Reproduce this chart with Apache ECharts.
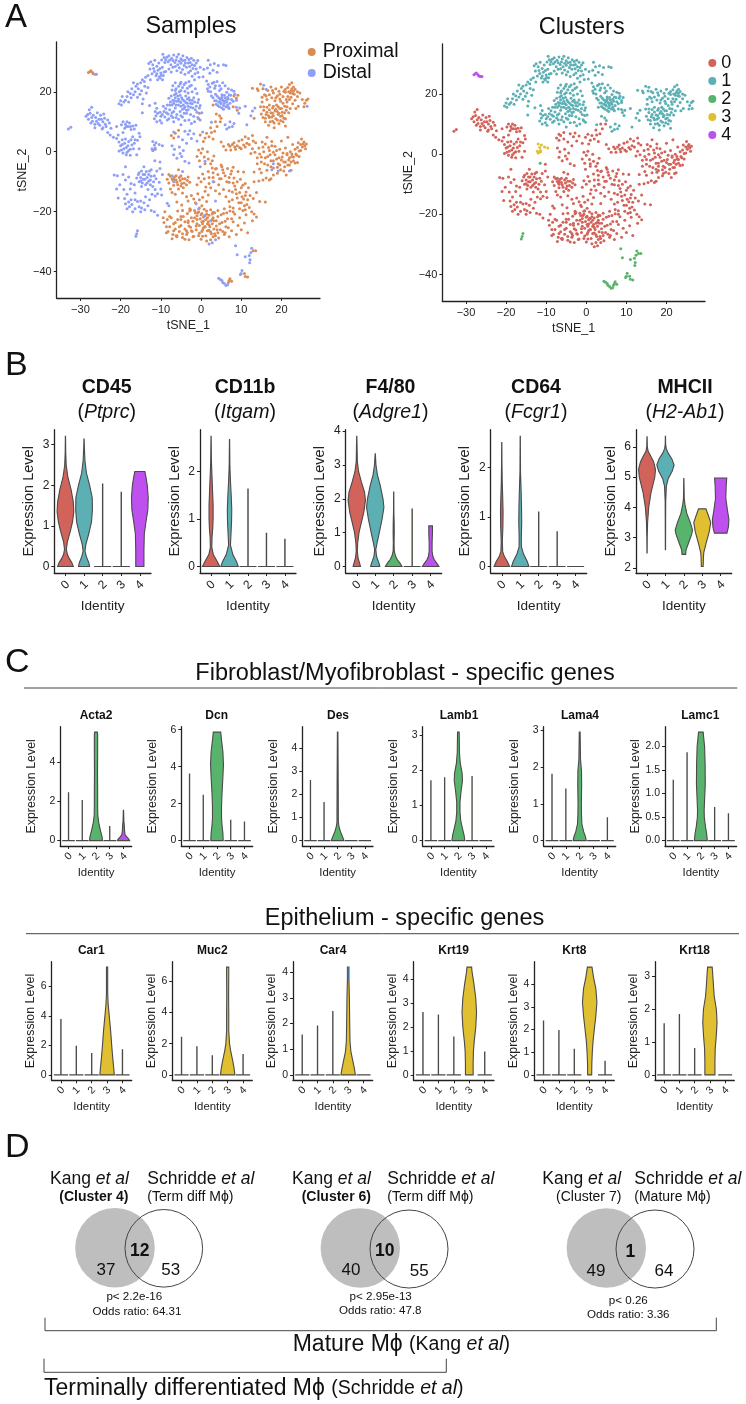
<!DOCTYPE html>
<html>
<head>
<meta charset="utf-8">
<style>
  html, body { margin: 0; padding: 0; background: #fff; }
  #main { width: 746px; height: 1404px; }
</style>
<script src="https://cdn.jsdelivr.net/npm/echarts@6/dist/echarts.min.js"></script>
</head>
<body>
<div id="main"></div>
<script>
const distalC1 = [-9.5,32.5,-8.5,31.5,-8,32,-7.3,31.2,-6.8,32.3,-6,31.6,-5.6,32.5,-5,31,-4.5,32,-4,30.5,-3.5,31.4,-3,30.8,-2.7,29.8,-2.4,31.2,-1.8,30.5,-1.2,29.6,-0.8,30.4,1.8,30.5,2.3,29,3.3,29.4,4.3,28.8,5.6,29,6.2,28.8,-11.5,30.5,-12.5,30,-13,29.4,-12,29,-11,28.5,-10.5,29.6,-9.8,30.6,-9,29.8,-8.2,30,-7.5,29,-6.5,29.8,-5.8,29,-5,29.5,-4.2,28.8,-3.6,28.2,-2.8,28.4,-2,27.8,-1.2,27.6,-0.2,28.2,0.7,27.5,1.6,27.9,3,27.2,4,26.5,-12.7,27.6,-11.6,26.8,-10.7,27.2,-10,26.3,-9.4,25.4,-8.8,26.8,-10.4,25,-11.2,25.3,-9.6,24,-10.8,24,-8,27.6,-6,27,-5,26.4,-4,25.8,-3.1,26.4,-2.2,25.2,-1.5,26,-0.5,24.8,0.5,25,-13.8,24.8,-14.6,24,-15,23,-14.1,23.4,-16.8,23,-16.2,21.8,-17.2,21,-15.6,21,-14.8,20.3,-16.4,20,-15.2,19.2,-17.6,19.4,-18.4,18.4,-17.4,18,-18.8,17.2,-19.6,18.4,-19.2,16.6,-20.4,16,-19.8,15.6,-13.6,19.6,-14.4,17.6,-14.6,16,-12.8,15.4,-14.6,13,-11.4,16.2,-11,14.5,-11.4,13.4,-11.2,12,-11.6,11,-11,10,-10.2,13.2,-10,11.8,-10.2,10.4,-9.4,15.2,-9.2,13.4,-9,11.6,-8.8,14.4,-8.2,12.6,-8.4,10.6,-7.8,15.6,-7.8,14,-7.2,13,-7,11.4,-6.8,10,-6.4,14.6,-6,12.4,-5.6,10.8,-5,9,-4.6,11.6,-3.6,12.8,-3,10.6,-2.4,9.4,-8,17.8,-7.4,18.6,-7,17.2,-6.8,16.2,-6.4,18,-6.2,19.4,-6,16.8,-5.6,17.6,-5.6,15.6,-5.2,18.8,-5,16.4,-4.6,17.4,-4.4,15.6,-4.2,14.4,-3.8,16.4,-3.4,17.6,-3.2,15.2,-3,18,-2.6,16.2,-2.2,17.2,-2,14.6,-1.6,16.6,-1.2,15.2,-1,13.2,-0.6,17.4,-7.2,20.6,-7,22,-6.4,23,-6.2,21,-5.6,21.8,-5,20.4,-5,23.2,-4.2,22.4,-4,20.2,-3.4,21.2,-3,23.4,-2.4,22.2,-2.2,20,-1.4,21,-1.6,24,-1,19.4,-0.8,11.4,-0.2,15.4,0.2,13,-0.2,10.6,1.4,23.6,1.8,22.4,1.6,21,2.4,20,2.8,22.8,3,18,3.4,21.2,3.6,19.2,3.8,17,4,23.4,4.2,15.4,4.4,18,4.6,20.4,4.8,16.4,5,17.8,5.2,14.6,5.2,19,5.6,16.8,5.6,15.4,6,18,6,22,6.4,16.6,6.4,19.8,6.8,17.6,6.8,14.8,7.2,16.2,7.4,18.8,7.6,20.6,8,16.8,8.4,19.2,8.8,14.8,6,9,6.4,7.6,7,8.2,7.2,10,7.8,8.4,8.2,9.4,9.4,12.8,9.6,14.6,11,15.2,12.8,13.6,13.4,14.6,12.4,12,11.4,9,2.6,9.8,15.6,22.2,16.2,20.8,26.4,15.2];
const distalC1More = [-9.2,31.4,-8.8,30.7,-7.8,30.6,-7,30.4,-6.2,30.6,-5.4,30.2,-4.6,30.4,-3.9,29.6,-3.2,29.6,-2.2,29,-1.6,28.8,-7,28.2,-6.4,28.4,-5.4,28,-4.6,27.4,-9.6,28.2,-10.2,27.8,-11.8,27.8,-12.2,26,-11,26,-10.2,24.6,-9.2,26.6,-9.9,25.5,-7.4,26.6,-2.6,27,-0.8,26.4,2.2,26.2,-13.2,25.4,-12.6,24,-14,21.8,-15.8,22.6,-13.2,21.4,-18.2,20,-16.8,19,-15.8,18.2,-18,16.6,-20,17,-7.6,16.6,-7.2,15.6,-6.6,17,-6.2,15.6,-5.8,18.6,-5.4,16.8,-5,15.2,-4.8,18,-4.6,14.2,-4.2,17,-4,15,-3.8,18.6,-3.4,16.2,-3.6,13.8,-2.8,17.2,-2.6,14.8,-2.2,16,-1.8,18,-1.4,14,-0.8,16.4,-0.4,14.6,-8.4,15.6,-8.6,13,-8,11,-7.4,12,-6.8,13.4,-6.2,11.4,-5.2,13.4,-5,12,-4.2,12.8,-4,10.4,-3.2,14,-2.6,12.4,-1.8,11.8,-1.6,10,-9.6,12.4,-9.8,9.6,-10.8,12.8,-6.6,19,-6.4,20.4,-5.4,20,-5.2,22.6,-4.6,21.4,-3.8,23,-3.2,19.6,-2.8,21.8,3.4,17,3.8,15.8,4,18.6,4.4,16.6,4.6,15,4.8,17.4,5,16,5.2,18.2,5.4,17.2,5.6,14.2,5.8,18.8,5.8,16.2,6.2,17.2,6.2,15,6.6,18.2,6.6,15.6,7,19,7,14.4,7.6,17.4,1.8,20.2,2.6,18.6,2.2,21.6,3.2,23.2,3.6,22,4.6,22,5,21,5.4,23,6.8,21,8.2,20.2,8.8,17.2];
const proximalC1 = [14,21,14.8,22.6,15.4,21,15.8,19,16.4,17.4,16.6,20.4,17,15.6,17.4,21.6,17.6,18,17.8,14.6,18,19.6,18.4,13.6,18.4,17,18.6,21,18.8,15.6,19,18.6,19.2,12.4,19.4,20.2,19.6,14.4,19.8,16.8,20,21.6,20.2,13.2,20.4,18.4,20.6,11.2,20.8,15.2,21,19.8,21,20.8,21.2,13.8,21.4,16.6,21.6,21.4,21.8,20,22,22.4,22.2,19.6,22.4,18.2,22.6,21,22.6,23,22.8,16,23,20.2,23.4,20.8,23.6,14.4,24,18.4,24,20,24.2,15.2,25.2,17.4,25.6,15,25.8,16.2,26.2,17.2,26.6,17.6,14.8,15,15,12.6,15.4,11.4,15.6,13.8,16,10,16.2,12.4,16.4,14.8,16.8,8.8,17,11.4,17.4,13,17.8,10.2,18,12,18.2,8,18.6,11,19,13.4,19.4,9.4,19.8,11.8,20.4,10,21,8.6,13.2,11.2,12.8,21.2,14.2,20.4,8.2,18.6,8.8,17.8,9.2,18.8,8,15,9,13.8,3.8,12.6,4.6,12,5,11.2,3,15.6,-0.4,12.8,-0.6,11];
const proximalC1More = [15.2,16.6,15.6,15,16,11.2,16.4,13.2,16.8,12,17,14,17.2,10,17.6,11.6,17.8,12.8,18,15.2,18.2,9.6,18.6,14.2,19,10.6,19.2,15,19.4,12.8,19.6,17.6,19.8,10.4,20,14.4,20.2,12,20.4,16.2,20.8,13,21,11,21.4,15,21.8,13,22,17.4,22.2,14.4,22.4,20.4,22.8,19.4,23,21.6,17,19,17.8,20.4,18.6,18,16.2,18.6,15.2,18.2,19.6,19.2,20.6,20.2,21.6,18.4,21.2,17.4,23.2,19.2,24.6,19.6,23.4,17.2];
const distalC0 = [-28.6,11.8,-28,10.8,-27.6,12.8,-27.2,11.4,-27.8,14,-27.2,14.8,-27,10.2,-26.4,9.2,-26.2,11.4,-25.8,13,-25.4,10.8,-25.2,8.8,-25,12.2,-24.4,10,-24.4,8,-24,11.2,-23.8,9.2,-23.2,10.6,-22.8,9.6,-22.4,7.8,-26.4,8,-24.6,7.6,-23.2,6.4,-22.6,5.6,-21.8,4.8,-21,4.4,-20.6,5.6,-20.4,3.2,-20,2,-19.8,0.6,-20.4,0.2,-19.6,4,-19.4,-0.4,-19,2.8,-18.6,1.4,-18.6,-1,-18,3.4,-18,0.4,-17.6,-1.2,-17.2,2.2,-17,5,-16.4,4,-15.8,3.8,-15.4,6.2,-19.8,9,-19.4,10,-19,7.8,-18.8,9.2,-18.4,10,-18.2,8.4,-17.8,9.6,-17.4,7.4,-17,8.6,-16.6,7.6,-21,8.4,-16,-1,-15.4,1,-33,7.6,-32.4,8.2,-18.8,-5,-21.6,-7.8,-20.8,-8,-19.4,-7.6,-18.8,-9.4,-18,-8.4,-17.4,-10.6,-21,-12.4,-20.2,-11,-19.2,-12.6,-18.4,-14.2,-17.6,-12.4,-16.6,-11,-16.4,-13.8,-20.6,-15.4,-19,-15.6,-18.8,-17.4,-18,-16.8,-17.8,-18.4,-17.2,-17.6,-16.4,-19,-15.8,-16.6,-15.4,-18.4,-15,-16.4,-14.8,-18.8,-14.2,-17,-13.8,-15,-13.2,-18,-16,-8.8,-15.6,-7.6,-15.4,-10,-15,-8.6,-14.8,-6.4,-14.8,-11.6,-14.4,-9.2,-14.2,-5,-14,-7.6,-13.8,-11,-13.4,-8.6,-13.2,-12.6,-13,-9.8,-12.8,-6.4,-12.6,-11,-12.4,-8.2,-12.2,-14.2,-11.8,-10,-11.4,-12.6,-11.2,-9,-11,-6.4,-10.8,-14,-10.4,-10.2,-10.2,-5.6,-9.8,-14.4,-9.6,-7.6,-11.6,-20,-10.8,-21.2,-12.4,-19.6,-8.4,-17.2,-8,-18,-10.2,-3.4,-7.2,-8,-6.8,-10,-4.6,-6.6,-7.2,2,-6.8,-1,-6.6,0.8,-6,-2.2,-5.4,1.6,-5.2,-0.6,-4.8,-1.6,-4.4,0.4,-4,-3.2,-3.6,2.8,-3,-3.8,-6.8,6.6,-5.6,5,-4.6,4,-4,6.8,-3.2,5.8,-2.8,7,-2.4,4.4,-1.8,6,-1,3.6,0.4,6.6,-0.2,-5,1,-3.2,3,-10,3.6,-16.4,-1.2,-17.4,18,-4,17.6,-6,19.2,-6.4,22,-6.4,2,-30.8,2.8,-30.4,2.4,-23,-0.6,-19,0.8,-21.4,3.6,-29.4];
const distalC0More = [-28.2,12.4,-27.4,9.6,-26.8,12.2,-26,10.2,-25.6,9.4,-24.8,10.8,-24.2,12.6,-23.6,8.4,-19.6,2.4,-19.2,1,-18.8,4.2,-18.4,-0.2,-18.2,2,-17.6,0.8,-17.4,4,-16.8,1,-16.6,2.8,-19.4,6.4,-18.6,8.4,-17.6,8.4,-16.2,8.8,-15.2,5,-15.4,-7,-15,-9.8,-14.6,-10.4,-14.4,-7.6,-14,-9.2,-13.6,-6.6,-13.4,-10.4,-13,-7.6,-12.6,-9.4,-12.4,-6,-12,-11.6,-11.6,-8,-16.4,-16,-17.4,-16,-18.4,-19,-17,-20,-15,-20,-14,-19.4,-12.8,-16,-10,-12.4,-11.4,-14.8];
const proximalC0 = [-7.4,5.4,-6.8,4.6,-6.4,6.2,-5.6,7.2,-7.6,-8.2,-8,-10.4,-7.6,-12.4,-7.2,-9,-6.8,-11.2,-6.4,-14.2,-6.2,-9.4,-5.8,-11,-5.6,-12.4,-5.2,-9.6,-5,-8,-4.8,-10.6,-4.4,-12,-4,-9,-3.6,-11,-3.2,-8.4,-2.8,-10.2,-3.6,-15,-3.2,-16.4,-2.4,-14.6,-1.8,-15.8,-1.4,-17,-0.8,-14,-0.4,-16,0.2,-18,0.4,-15.2,1,-13.2,1.4,-16.6,1.8,-14.4,-1,-11,-0.6,-8.8,0,-10,0.4,-7.4,0.8,-9,1.2,-11.8,1.8,-6.6,2,-8.6,2.4,-12,2.8,-5.4,3,-7,3.2,-10,3.6,-13,3.8,-5.6,4.2,-7.6,4.4,-11,4.6,-14,5,-4.4,5,-9,5.4,-6,5.6,-12.6,6,-8,6.2,-15,6.6,-5.6,7,-10.2,7,-13,7.4,-7.4,7.8,-16,8,-5.2,8.2,-8.8,8.4,-11.4,8.8,-14,9.2,-6.6,9.4,-17,9.8,-9.2,10,-12,10.2,-15,10.6,-6.8,10.8,-18,11,-10.6,11.2,-13.4,11.6,-16,12,-18.6,12.2,-14.6,13,-15.6,12.6,-20,13.2,-20.8,13.8,-13.6,13.8,-21.8,12.8,-23,14.6,-16.6,16,-16.8,-9,-20,-9.4,-22,-9.2,-23.6,-8.6,-25,-8.2,-26.6,-7.4,-22,-7,-27.6,-6.8,-24,-6.4,-25.8,-6,-28,-5.8,-22.6,-5.4,-26.6,-5,-24.6,-4.6,-28.6,-4.4,-21.6,-4,-25.8,-3.6,-27.6,-3.2,-23.6,-2.8,-19.8,-2.4,-26.4,-2,-28.4,-1.6,-22,-1.2,-24.8,-0.8,-20.4,-0.4,-27.2,0,-29.2,0.2,-23.4,0.6,-25.4,1,-21.4,1.2,-28,1.6,-24,2,-26.2,2.4,-29.4,2.8,-22.6,3,-20.2,3.4,-27.4,3.8,-24.8,4.2,-21.6,4.4,-28.8,4.8,-26,5.2,-23.6,5.6,-20.6,5.8,-27.6,6.2,-25,6.6,-22.4,7,-28.4,7.2,-19.8,7.6,-26.4,8,-23.4,8.4,-20.8,8.8,-27.6,9.2,-24.6,9.6,-22,10,-26,10.4,-19.6,10.8,-23.8,11.2,-21,11.6,-27,-1.6,-19.6,-1,-22.6,-0.4,-24.6,0,-21,0.4,-26,0.6,-23.2,1,-25,1.4,-19.8,1.6,-22,2,-24.4,2.4,-26.8,2.8,-20.8,3.2,-23,-2.4,-22,-3,-24.8,-3.6,-26.4,-4,-23.4,-4.6,-27.4,-5,-21.6,-5.4,-25,-6,-28.4,-6.4,-23.6,-6.8,-26.4,-7.2,-29,-2.8,-19,-3.4,-20.6,-4.6,-19.6,-5,-22.6,-5.8,-19.8,-0.4,-18.8,-7.8,-25,-8.6,-27,-8.4,-22.6,-7.8,-21.6,-6.2,-28,-4,-29.2,-3,-29.4,-1.8,-28.2,-6,-16.8,-4.8,-17.8,-5.6,-6,-6.2,-8,-6.8,-9.2,-8,-7.6,-8.4,-9.2,-7.2,-13.6,-4.6,-13.8,-2.6,-19.4,-1,-1.6,-0.4,-3,-0.6,0.6,0,-0.4,0.4,1,0.8,-1.8,1,-4,1.6,0,1.8,-2.4,2.4,-4,2.8,-3,3.2,-1.4,3.6,-5.8,-0.2,5.6,0.6,3.4,1,4.6,1.4,6.2,2,5,2.6,6.4,3,4.2,3.4,6.8,2.4,8,4,8.4,3.6,10,4.8,10,5,3.2,5.6,1.8,6.2,0.6,6.8,2.4,7.4,0.6,7.8,2.4,8.2,3,8.6,0.8,9,2,9.4,3.6,10,1,10.2,4,11,1.6,11,5,11.8,4.4,12,2.4,12.8,5.4,12.8,1,13.4,-0.2,13.6,3,14,-2,14.4,1.2,14.6,-0.8,15,-3.4,15.2,3.2,15.6,0,16,-2,16.4,4.8,16.6,-4.4,16.8,1.4,17.2,-1,17.4,-3,17.6,3.4,18,-5.4,18,-0.2,18.4,1.8,18.8,-2.4,19,-7.2,19.2,-4,19.6,0.8,19.8,-6,20,3.6,20.2,-1.8,20.6,-3.4,20.8,-5,21,1.2,21.2,-7.8,21.4,-1,21.6,4.8,21.8,-2.8,22,-4.4,22.2,0,22.4,-6.2,22.6,-1.6,22.8,2.4,23,-3,23.4,0.8,23.6,-0.8,24,-3.6,24.2,3,24.4,-1.6,24.8,0.4,25,4.2,25.2,1.6,25.6,3.2,25.8,2,26,1,26.2,2.6,14.4,-9.8,15.4,-9.4,16.2,-8.8,17,-9.4,18,-7.8,15,-7,16.4,-6.2,17.4,-9,13.2,-10,13.2,-6.8];
const proximalC0More = [-1.4,-20.4,-1,-21.4,-0.6,-20,-0.2,-22.4,0.2,-20.6,0.4,-24,0.6,-21.8,0.8,-19.2,1,-25,1.2,-22.6,1.4,-20.8,1.6,-26.4,1.8,-23.4,2,-21.2,2.2,-25,2.4,-19.4,2.6,-27.4,2.8,-24,3,-22,3.2,-25.8,3.4,-20.4,3.6,-28,3.8,-23,4,-26,4.2,-19.6,4.6,-24,5,-21,5.4,-26.6,5.8,-19,6,-23.2,6.4,-20.4,6.8,-25.4,7.2,-18.4,7.6,-22.4,8,-20,-2,-23.2,-2.6,-25.2,-3.2,-23,-3.4,-27,-2.2,-26.6,-1.2,-26,-0.6,-28,0.2,-26.6,0.4,-28.2,-1,-24,1.4,-29.8,3,-28.4,4.2,-27,6,-27,7,-16.6,8,-18.8,9,-15.4,9.6,-19,10,-17,10.6,-15.8,11,-19.4,11.4,-17.6,7.8,-13.4,8.6,-12.6,9,-10,9.6,-13.6,10.4,-11.2,11,-14.6,11.8,-12,6.4,-10,7,-8.6,7.6,-6.4,8,-10.4,5.6,-7,4.6,-9,5.2,-5,3,-8.6,2,-10.6,14,-4,14.6,-5.8,15,-1.8,15.4,1.6,15.8,-4,16,2.6,16.6,-1.6,17,0.4,17.4,-5,17.6,2,18,-3,18.4,-1,18.8,0.4,19,-5.2,19.4,-2,19.6,-4.4,20,-2.8,20.4,-0.4,20.6,-6.4,21,-3.4,21.4,-0.6,21.6,-4.4,22,-2,22.4,-3.4,22.6,-0.8,23,-1.8,23.4,-3.8,23.8,-1.2,24,1.4,24.4,0.2,24.8,2.4,25.4,2.6,12.4,-0.6,13,3.6,11.4,2.8,10.6,2.2,9.6,1.4,8.4,1.6,7.2,1.8,-7,-9.4,-6.6,-8.4,-6,-10.2,-5.4,-8.6,-5,-11.4,-4.6,-9,-4.2,-10.4,-3.4,-9.6];
const distalC2 = [-15.8,-26.4,-16,-27.4,-16.2,-28.2,8.6,-31.4,9,-34.4,11,-35,12,-34.6,12.2,-36,12.1,-37,12.4,-33.6,12.6,-32.2,-11.5,-3,4.4,-42.2,4.8,-42.6,5.2,-43,5.4,-43.6,5.8,-44,6.2,-44.6,6.6,-44.4,10,-40.6,10.2,-39.6,9.8,-41];
const proximalC2 = [13,-33,13.6,-33,7,-43,7.2,-42.4,6.8,-43.6,7.6,-43.2,10.8,-40.6,11,-41.6,11.6,-41.8];
const distalC3 = [-12,3.4,-11.6,2.2,-11.2,3,-12.2,1,-11.4,1.2,-10.4,2.4,-9.6,2,-11.8,0.6];
const proximalC3 = [-12,0.4,-11.4,0.8];
const distalC4 = [-26.4,25.8,-26,25.8];
const proximalC4 = [-28,26.4,-27.6,26.8,-27.4,27,-27,26.4,-26.8,26];

const xTicksTsne = [-30, -20, -10, 0, 10, 20];
const yTicksTsne = [-40, -20, 0, 20];
const sampleNames = ["Proximal", "Distal"];
const clusterNames = ["0", "1", "2", "3", "4"];
const identities = [0, 1, 2, 3, 4];

// violin outlines: each one is a list of [expression level, half width]
const s = (h) => (h > 0 ? [[0, 0.46], [0, 0.008], [h, 0.008]] : [[0, 0.46]]);

const Ptprc = [
  [[0,.42],[.1,.34],[.2,.2],[.3,.1],[.42,.05],[.6,.1],[.9,.28],[1.1,.38],[1.35,.45],[1.6,.42],[1.9,.3],[2.2,.13],[2.5,.04],[2.8,.015],[3.21,.005]],
  [[0,.3],[.1,.25],[.25,.12],[.38,.05],[.55,.1],[.8,.25],[1.1,.4],[1.4,.45],[1.7,.44],[2,.3],[2.3,.13],[2.6,.05],[2.9,.02],[3.14,.005]],
  s(2.03), s(1.83),
  [[0,.22],[.4,.22],[.8,.24],[1.1,.33],[1.4,.43],[1.7,.45],[2,.4],[2.2,.33],[2.34,.27]]
];
const Itgam = [
  [[0,.47],[.1,.34],[.25,.12],[.4,.04],[.6,.05],[.8,.09],[1,.11],[1.3,.11],[1.6,.08],[1.9,.05],[2.2,.02],[2.74,.005]],
  [[0,.47],[.1,.38],[.25,.18],[.45,.05],[.7,.08],[.95,.11],[1.2,.12],[1.5,.09],[1.8,.05],[2.1,.02],[2.67,.005]],
  s(1.63), s(.7), s(.57)
];
const Adgre1 = [
  [[0,.2],[.1,.15],[.25,.07],[.45,.03],[.7,.05],[1,.12],[1.3,.25],[1.6,.38],[1.95,.47],[2.2,.42],[2.5,.25],[2.8,.1],[3.1,.03],[3.85,.005]],
  [[0,.25],[.1,.2],[.3,.07],[.5,.03],[.7,.1],[1,.22],[1.4,.37],[1.75,.47],[2,.42],[2.4,.27],[2.7,.12],[3,.04],[3.33,.005]],
  [[0,.45],[.1,.34],[.2,.2],[.3,.1],[.45,.03],[.7,.02],[1,.03],[1.3,.025],[1.6,.01],[2.2,.005]],
  s(1.7),
  [[0,.45],[.1,.33],[.2,.2],[.3,.12],[.45,.08],[.7,.08],[1,.1],[1.2,.1]]
];
const Fcgr1 = [
  [[0,.42],[.1,.3],[.2,.14],[.3,.05],[.5,.03],[.8,.06],[1.1,.07],[1.4,.05],[1.7,.025],[2.1,.01],[2.5,.005]],
  [[0,.47],[.1,.38],[.25,.18],[.4,.06],[.6,.06],[.9,.08],[1.2,.07],[1.5,.05],[1.9,.015],[2.63,.005]],
  s(1.1), s(.7), s(0)
];
const H2Ab1 = [
  [[2.5,.005],[3,.01],[3.5,.03],[4,.09],[4.5,.22],[5,.42],[5.25,.46],[5.5,.36],[5.7,.2],[5.85,.06],[6,.015],[6.33,.005]],
  [[2.6,.005],[3.5,.01],[4.2,.015],[4.7,.05],[4.95,.15],[5.2,.37],[5.4,.47],[5.6,.35],[5.8,.14],[5.95,.04],[6.1,.01],[6.35,.005]],
  [[2.45,.1],[2.6,.12],[2.8,.24],[3.1,.42],[3.25,.47],[3.5,.35],[3.8,.16],[4.1,.06],[4.3,.02],[4.95,.005]],
  [[2.05,.05],[2.3,.06],[2.5,.08],[2.8,.2],[3.2,.38],[3.5,.46],[3.7,.35],[3.95,.2]],
  [[3.15,.34],[3.35,.42],[3.6,.45],[3.9,.37],[4.3,.28],[4.7,.3],[4.97,.33]]
];
const Acta2 = [
  s(2.45), s(2.05),
  [[0,.47],[.2,.44],[.5,.33],[.9,.2],[1.3,.13],[1.8,.12],[2.5,.12],[3.5,.11],[4.5,.12],[5.4,.12],[5.55,.1]],
  s(.72),
  [[0,.45],[.1,.36],[.2,.22],[.3,.12],[.5,.08],[.8,.06],[1,.03],[1.55,.01]]
];
const Dcn = [
  s(3.6), s(2.45),
  [[0,.45],[.4,.43],[.8,.37],[1.2,.33],[1.8,.33],[2.5,.36],[3.3,.42],[4.1,.47],[4.8,.43],[5.5,.32],[5.87,.27]],
  s(1.1), s(1)
];
const Des = [
  s(2.6), s(1.65),
  [[0,.47],[.1,.4],[.25,.3],[.4,.2],[.6,.1],[.8,.05],[1.2,.05],[2.5,.04],[4.7,.02]],
  s(0), s(0)
];
const Lamb1 = [
  s(1.7), s(1.78),
  [[0,.47],[.15,.42],[.35,.3],[.55,.18],[.8,.12],[1.1,.12],[1.4,.2],[1.7,.3],[1.9,.28],[2.2,.14],[2.5,.08],[3.08,.06]],
  s(1.82), s(0)
];
const Lama4 = [
  s(1.8), s(1.4),
  [[0,.47],[.1,.42],[.25,.28],[.45,.16],[.7,.13],[1,.12],[1.5,.14],[1.9,.13],[2.2,.06],[2.95,.03]],
  s(0), s(.62)
];
const Lamc1 = [
  s(1.28), s(1.86),
  [[0,.47],[.15,.42],[.3,.33],[.5,.25],[.65,.24],[.85,.27],[1.2,.32],[1.6,.31],[2,.27],[2.2,.2],[2.3,.17]],
  s(.7), s(.57)
];
const Car1 = [
  s(3.75), s(1.93), s(1.45),
  [[0,.47],[.5,.43],[1,.38],[2,.3],[3,.23],[4,.14],[4.8,.07],[5.5,.04],[6.5,.04],[7.3,.04]],
  s(1.7)
];
const Muc2 = [
  s(2.4), s(1.8), s(1.23),
  [[0,.47],[.4,.42],[.9,.33],[1.5,.2],[2,.12],[2.8,.07],[4,.07],[5,.06],[6.5,.07],[6.9,.07]],
  s(1.3)
];
const Car4 = [
  s(1.55), s(1.9), s(2.47),
  [[0,.47],[.2,.42],[.5,.32],[.9,.18],[1.3,.12],[2,.1],[3,.08],[3.7,.05],[4.2,.05]],
  s(0)
];
const Krt19 = [
  s(2.6), s(2.5), s(1.58),
  [[0,.25],[.5,.25],[1,.27],[1.4,.32],[2,.42],[2.6,.47],[3.2,.42],[3.8,.3],[4.3,.18],[4.5,.15]],
  s(.95)
];
const Krt8 = [
  s(2.37), s(1.95), s(1.13),
  [[0,.13],[.5,.14],[1,.17],[1.5,.22],[2,.3],[2.6,.4],[3.2,.47],[3.8,.4],[4.3,.25],[4.75,.15]],
  s(.6)
];
const Krt18 = [
  s(1.55), s(1.83), s(.8),
  [[0,.33],[.4,.33],[.8,.35],[1.2,.42],[1.6,.47],[2,.42],[2.4,.28],[2.8,.22],[3.1,.18],[3.27,.15]],
  s(0)
];

// venn numbers
const vennLeft = [37, 40, 49];
const vennOverlap = [12, 10, 1];
const vennRight = [53, 55, 64];
const vennPvalues = ["p< 2.2e-16", "p< 2.95e-13", "p< 0.26"];
const vennOdds = ["Odds ratio: 64.31", "Odds ratio: 47.8", "Odds ratio: 3.36"];

const FONT = '"Liberation Sans", Arial, sans-serif';
const INK = "#222";
const sampleColors = ["#DD8B55", "#8D9FF6"];
const clusterColors = ["#D2635B", "#5CB0B4", "#58B46C", "#E0C030", "#BE50F0"];

const pairs = (flat) => {
  let out = [];
  for (let i = 0; i + 1 < flat.length; i += 2) out.push([flat[i], flat[i + 1]]);
  return out;
};
const minus = (v) => String(v).replace("-", "\u2212");

let grid = [], xAxis = [], yAxis = [], series = [], graphic = [];

// helpers for text and lines
function txt(x, y, text, size, extra) {
  graphic.push({
    type: "text", x: x, y: y, silent: true,
    style: Object.assign({
      text: text, fontFamily: FONT, fontSize: size, fill: "#111",
      align: "center", verticalAlign: "middle"
    }, extra || {})
  });
}
function ln(x1, y1, x2, y2) {
  graphic.push({
    type: "line", silent: true,
    shape: { x1: x1, y1: y1, x2: x2, y2: y2 },
    style: { stroke: "#444", lineWidth: 1 }
  });
}

// ---- panel A
function addTsne(box, entries) {
  let idx = grid.length;
  grid.push({ left: box.left, top: box.top, width: box.right - box.left, height: box.bottom - box.top });
  xAxis.push({
    type: "value", gridIndex: idx, min: -35.9, max: 29.6, splitLine: { show: false },
    axisLine: { onZero: false, lineStyle: { color: INK, width: 1.3 } },
    axisTick: { length: 3, lineStyle: { color: INK }, customValues: xTicksTsne },
    axisLabel: { customValues: xTicksTsne, formatter: minus, fontFamily: FONT, fontSize: 11, color: INK, margin: 6 },
    name: "tSNE_1", nameLocation: "middle", nameGap: 21,
    nameTextStyle: { fontFamily: FONT, fontSize: 12.5, color: INK }
  });
  yAxis.push({
    type: "value", gridIndex: idx, min: -48.8, max: 36.6, splitLine: { show: false },
    axisLine: { onZero: false, lineStyle: { color: INK, width: 1.3 } },
    axisTick: { length: 3, lineStyle: { color: INK }, customValues: yTicksTsne },
    axisLabel: { customValues: yTicksTsne, formatter: minus, fontFamily: FONT, fontSize: 11, color: INK, margin: 5 },
    name: "tSNE_2", nameLocation: "middle", nameGap: 25,
    nameTextStyle: { fontFamily: FONT, fontSize: 12.5, color: INK }
  });
  entries.forEach(function (e) {
    series.push({
      type: "scatter", name: e.name, xAxisIndex: idx, yAxisIndex: idx,
      data: pairs(e.cells), symbolSize: 3, silent: true,
      itemStyle: { color: e.color, opacity: 1 }
    });
  });
}
addTsne({ left: 56.7, right: 320, top: 42, bottom: 298 }, [
  { name: sampleNames[0], color: sampleColors[0], cells: proximalC0.concat(proximalC0More, proximalC1, proximalC1More, proximalC2, proximalC3, proximalC4) },
  { name: sampleNames[1], color: sampleColors[1], cells: distalC0.concat(distalC0More, distalC1, distalC1More, distalC2, distalC3, distalC4) }
]);
addTsne({ left: 442.3, right: 705, top: 44, bottom: 301 }, [
  { name: clusterNames[0], color: clusterColors[0], cells: proximalC0.concat(proximalC0More, distalC0, distalC0More) },
  { name: clusterNames[1], color: clusterColors[1], cells: proximalC1.concat(proximalC1More, distalC1, distalC1More) },
  { name: clusterNames[2], color: clusterColors[2], cells: proximalC2.concat(distalC2) },
  { name: clusterNames[3], color: clusterColors[3], cells: proximalC3.concat(distalC3) },
  { name: clusterNames[4], color: clusterColors[4], cells: proximalC4.concat(distalC4) }
]);

// ---- violin panels
function addViolin(gene, ticks, box, fonts, cap) {
  let idx = grid.length;
  let all = [];
  gene.forEach((v) => v.forEach((p) => all.push(p[0])));
  let lo = Math.min.apply(null, all), hi = Math.max.apply(null, all);
  let pad = (hi - lo) * 0.05;
  grid.push({ left: box.left, top: box.top, width: box.right - box.left, height: box.bottom - box.top });
  xAxis.push({
    type: "value", gridIndex: idx, min: -0.6, max: 4.6, splitLine: { show: false },
    axisLine: { onZero: false, lineStyle: { color: INK, width: 1.3 } },
    axisTick: { length: 3, lineStyle: { color: INK }, customValues: identities },
    axisLabel: {
      customValues: identities, rotate: 45, align: "center", verticalAlign: "middle",
      fontFamily: FONT, fontSize: fonts.tick, color: INK, margin: fonts.xMargin
    },
    name: "Identity", nameLocation: "middle", nameGap: fonts.xGap,
    nameTextStyle: { fontFamily: FONT, fontSize: fonts.x, color: INK }
  });
  yAxis.push({
    type: "value", gridIndex: idx, min: lo - pad, max: hi + pad, splitLine: { show: false },
    axisLine: { onZero: false, lineStyle: { color: INK, width: 1.3 } },
    axisTick: { length: 3, lineStyle: { color: INK }, customValues: ticks },
    axisLabel: {
      customValues: ticks, fontFamily: FONT, fontSize: fonts.tick, color: INK, margin: 5,
      formatter: (v) => (ticks.some((t) => t % 1 !== 0) ? Number(v).toFixed(1) : String(v))
    },
    name: "Expression Level", nameLocation: "middle", nameGap: fonts.yGap,
    nameTextStyle: { fontFamily: FONT, fontSize: fonts.y, color: INK }
  });
  series.push({
    type: "custom", xAxisIndex: idx, yAxisIndex: idx, clip: false, silent: true,
    data: gene.map((v, i) => [i, v[0][0]]),
    renderItem: function (params, api) {
      let i = params.dataIndex;
      let profile = gene[i];
      let left = profile.map((p) => api.coord([i - p[1], p[0]]));
      let right = profile.map((p) => api.coord([i + p[1], p[0]])).reverse();
      return {
        type: "polygon",
        shape: { points: left.concat(right) },
        style: { fill: clusterColors[i], stroke: "#4a4a4a", lineWidth: 1.1 }
      };
    }
  });
  if (cap) {
    // dark top of the Car4 violin
    series.push({
      type: "custom", xAxisIndex: idx, yAxisIndex: idx, clip: false, silent: true,
      data: [[cap.at, cap.from]],
      renderItem: function (params, api) {
        let a = api.coord([cap.at - cap.half, cap.from]), b = api.coord([cap.at + cap.half, cap.to]);
        return { type: "rect", shape: { x: a[0], y: b[1], width: b[0] - a[0], height: a[1] - b[1] }, style: { fill: "#3F6FA8" } };
      }
    });
  }
}

const fontsB = { tick: 12, x: 13.6, y: 14.5, xGap: 26, yGap: 18, xMargin: 12 };
const fontsC1 = { tick: 10.5, x: 11.4, y: 12.4, xGap: 21, yGap: 23, xMargin: 10.5 };
const fontsC2 = { tick: 10.5, x: 11.4, y: 12.4, xGap: 21, yGap: 15, xMargin: 10 };

const rowB = { top: 429.7, bottom: 573 };
addViolin(Ptprc, [0, 1, 2, 3], { left: 54.3, right: 151, top: rowB.top, bottom: rowB.bottom }, fontsB);
addViolin(Itgam, [0, 1, 2], { left: 200, right: 296, top: rowB.top, bottom: rowB.bottom }, fontsB);
addViolin(Adgre1, [0, 1, 2, 3, 4], { left: 345.7, right: 441.7, top: rowB.top, bottom: rowB.bottom }, fontsB);
addViolin(Fcgr1, [0, 1, 2], { left: 490.7, right: 586.7, top: rowB.top, bottom: rowB.bottom }, fontsB);
addViolin(H2Ab1, [2, 3, 4, 5, 6], { left: 636, right: 731.7, top: rowB.top, bottom: rowB.bottom }, fontsB);

const rowC1 = { top: 726.7, bottom: 846 };
addViolin(Acta2, [0, 2, 4], { left: 60.3, right: 131.7, top: rowC1.top, bottom: rowC1.bottom }, fontsC1);
addViolin(Dcn, [0, 2, 4, 6], { left: 181.3, right: 252.7, top: rowC1.top, bottom: rowC1.bottom }, fontsC1);
addViolin(Des, [0, 1, 2, 3, 4], { left: 302.3, right: 373, top: rowC1.top, bottom: rowC1.bottom }, fontsC1);
addViolin(Lamb1, [0, 1, 2, 3], { left: 422.7, right: 494, top: rowC1.top, bottom: rowC1.bottom }, fontsC1);
addViolin(Lama4, [0, 1, 2, 3], { left: 543.7, right: 615.7, top: rowC1.top, bottom: rowC1.bottom }, fontsC1);
addViolin(Lamc1, [0, 0.5, 1, 1.5, 2], { left: 665, right: 736.7, top: rowC1.top, bottom: rowC1.bottom }, fontsC1);

const rowC2 = { top: 961.7, bottom: 1080.3 };
addViolin(Car1, [0, 2, 4, 6], { left: 51.7, right: 131.7, top: rowC2.top, bottom: rowC2.bottom }, fontsC2);
addViolin(Muc2, [0, 2, 4, 6], { left: 172.3, right: 252.3, top: rowC2.top, bottom: rowC2.bottom }, fontsC2);
addViolin(Car4, [0, 1, 2, 3, 4], { left: 293, right: 372.7, top: rowC2.top, bottom: rowC2.bottom }, fontsC2, { at: 3, half: 0.05, from: 3.7, to: 4.2 });
addViolin(Krt19, [0, 1, 2, 3, 4], { left: 413.7, right: 494, top: rowC2.top, bottom: rowC2.bottom }, fontsC2);
addViolin(Krt8, [0, 1, 2, 3, 4], { left: 534.3, right: 614.3, top: rowC2.top, bottom: rowC2.bottom }, fontsC2);
addViolin(Krt18, [0, 1, 2, 3], { left: 655, right: 734.3, top: rowC2.top, bottom: rowC2.bottom }, fontsC2);

// ---- text
const letter = { align: "left" };
txt(5, 18, "A", 33, letter);
txt(5, 366, "B", 34, letter);
txt(5, 663, "C", 34, letter);
txt(5, 1148, "D", 34, letter);
txt(191, 27, "Samples", 23.4);
txt(581.7, 27.7, "Clusters", 23.4);

const headB = [["CD45", "Ptprc", 106.7], ["CD11b", "Itgam", 245], ["F4/80", "Adgre1", 390.5], ["CD64", "Fcgr1", 536], ["MHCII", "H2-Ab1", 685]];
headB.forEach(function (h) {
  txt(h[2], 388, h[0], 19.5, { fontWeight: "bold" });
  txt(h[2], 412.5, "{r|(}{i|" + h[1] + "}{r|)}", 19.5, {
    rich: { r: { fontFamily: FONT, fontSize: 19.5, fill: "#111" }, i: { fontFamily: FONT, fontSize: 19.5, fontStyle: "italic", fill: "#111" } }
  });
});
const headC1 = [["Acta2", 96], ["Dcn", 216.7], ["Des", 338], ["Lamb1", 459], ["Lama4", 580], ["Lamc1", 700.3]];
headC1.forEach((h) => txt(h[1], 716, h[0], 12, { fontWeight: "bold" }));
const headC2 = [["Car1", 91.3], ["Muc2", 212.3], ["Car4", 333], ["Krt19", 453.7], ["Krt8", 574.3], ["Krt18", 694.7]];
headC2.forEach((h) => txt(h[1], 951, h[0], 12, { fontWeight: "bold" }));

txt(405, 674, "Fibroblast/Myofibroblast - specific genes", 23.5);
ln(24, 688, 737.3, 688);
txt(404.5, 919, "Epithelium - specific genes", 23.5);
ln(26, 933.7, 739, 933.7);

// ---- panel D venns
const etAl = (size) => ({
  r: { fontFamily: FONT, fontSize: size, fill: "#111" },
  i: { fontFamily: FONT, fontSize: size, fontStyle: "italic", fill: "#111" }
});
const vennBoxes = [
  { gx: 115, gy: 1247.7, gr: 39.8, wx: 163.8, wy: 1248.3, wr: 38.8, kang: 50, sch: 147.3, cl: 59.3, clText: "(Cluster 4)", clBold: true, term: "(Term diff M\u03D5)", nL: [106, 1270.7], nO: [139.7, 1251], nR: [170.7, 1270.7], p: [134.3, 1297], o: [137, 1311.7] },
  { gx: 360.3, gy: 1248, gr: 39.7, wx: 409, wy: 1249, wr: 39, kang: 292, sch: 387.3, cl: 301.7, clText: "(Cluster 6)", clBold: true, term: "(Term diff M\u03D5)", nL: [351, 1270.7], nO: [384.7, 1251], nR: [419.3, 1271], p: [380.7, 1296.7], o: [380.3, 1311] },
  { gx: 606.3, gy: 1248, gr: 39.7, wx: 655, wy: 1249, wr: 39, kang: 542.3, sch: 634.3, cl: 556, clText: "(Cluster 7)", clBold: false, term: "(Mature M\u03D5)", nL: [596, 1271], nO: [630.3, 1251.7], nR: [664, 1271], p: [628.3, 1300.3], o: [628.3, 1314.3] }
];
vennBoxes.forEach(function (b, i) {
  graphic.push({ type: "circle", silent: true, shape: { cx: b.gx, cy: b.gy, r: b.gr }, style: { fill: "#BEBEBE" } });
  graphic.push({ type: "circle", silent: true, shape: { cx: b.wx, cy: b.wy, r: b.wr }, style: { fill: "none", stroke: "#444", lineWidth: 1 } });
  txt(b.kang, 1179, "{r|Kang }{i|et al}", 17.5, { align: "left", rich: etAl(17.5) });
  txt(b.sch, 1179, "{r|Schridde }{i|et al}", 17.5, { align: "left", rich: etAl(17.5) });
  txt(b.cl, 1197, b.clText, 14, { align: "left", fontWeight: b.clBold ? "bold" : "normal" });
  txt(b.sch, 1197, b.term, 14, { align: "left" });
  txt(b.nL[0], b.nL[1], String(vennLeft[i]), 17);
  txt(b.nO[0], b.nO[1], String(vennOverlap[i]), 17.5, { fontWeight: "bold" });
  txt(b.nR[0], b.nR[1], String(vennRight[i]), 17);
  txt(b.p[0], b.p[1], vennPvalues[i], 11.6);
  txt(b.o[0], b.o[1], vennOdds[i], 11.6);
});

// brackets
ln(45, 1317.7, 45, 1330.7); ln(45, 1330.7, 716.3, 1330.7); ln(716.3, 1330.7, 716.3, 1317.7);
ln(44, 1358.7, 44, 1372.3); ln(44, 1372.3, 446.3, 1372.3); ln(446.3, 1372.3, 446.3, 1358.7);
const bracketRich = {
  a: { fontFamily: FONT, fontSize: 23, fill: "#111" },
  r: { fontFamily: FONT, fontSize: 19.5, fill: "#111" },
  i: { fontFamily: FONT, fontSize: 19.5, fontStyle: "italic", fill: "#111" }
};
txt(292.7, 1345, "{a|Mature M\u03D5 }{r|(Kang }{i|et al}{r|)}", 23, { align: "left", rich: bracketRich });
txt(44, 1389, "{a|Terminally differentiated M\u03D5 }{r|(Schridde }{i|et al}{r|)}", 23, { align: "left", rich: bracketRich });

let chart = echarts.init(document.getElementById("main"), null, { renderer: "canvas" });
chart.setOption({
  backgroundColor: "#fff",
  animation: false,
  tooltip: { show: false },
  legend: [
    {
      data: sampleNames, orient: "vertical", left: 307.7, top: 41.5, padding: 0, itemGap: 0,
      icon: "circle", itemWidth: 8, itemHeight: 8, selectedMode: false,
      textStyle: { fontFamily: FONT, fontSize: 19.5, lineHeight: 21, color: "#111", padding: [0, 0, 0, 2] }
    },
    {
      data: clusterNames, orient: "vertical", left: 708.3, top: 54, padding: 0, itemGap: 0,
      icon: "circle", itemWidth: 8, itemHeight: 8, selectedMode: false,
      textStyle: { fontFamily: FONT, fontSize: 18, lineHeight: 18, color: "#111" }
    }
  ],
  grid: grid, xAxis: xAxis, yAxis: yAxis, series: series, graphic: graphic
});
</script>
</body>
</html>
